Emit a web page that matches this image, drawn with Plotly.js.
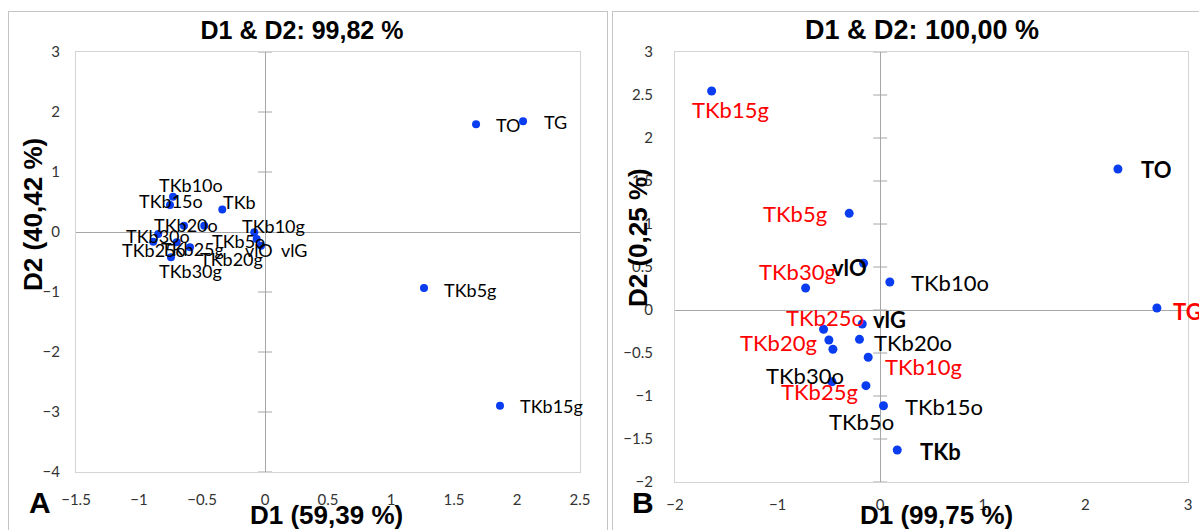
<!DOCTYPE html>
<html>
<head>
<meta charset="utf-8">
<script src="https://cdn.plot.ly/plotly-3.0.1.min.js"></script>
<style>
  html, body { margin: 0; padding: 0; background: #ffffff; width: 1199px; height: 530px; overflow: hidden; }
  #chartA { position: absolute; left: 0; top: 0; width: 610px; height: 530px; }
  #chartB { position: absolute; left: 610px; top: 0; width: 589px; height: 530px; }
  .frame { position: absolute; box-sizing: border-box; border: 1px solid #c4c4c4; pointer-events: none; background: transparent; }
  #frameA { left: 8px; top: 11px; width: 600px; height: 600px; }
  #frameB { left: 612px; top: 11px; width: 700px; height: 600px; }
</style>
</head>
<body>
<div id="chartA"></div>
<div id="chartB"></div>
<div id="frameA" class="frame"></div>
<div id="frameB" class="frame"></div>
<script>
// ---------- Panel A data ----------
const labelsA = ["TO","TG","TKb5g","TKb15g","TKb10o","TKb15o","TKb","TKb20o","TKb5o","TKb30o","TKb25o","TKb25g","TKb20g","TKb30g","TKb10g","vlO","vlG"];
const d1A = [1.675, 2.048, 1.262, 1.865, -0.730, -0.754, -0.339, -0.643, -0.482, -0.847, -0.887, -0.701, -0.595, -0.746, -0.085, -0.066, -0.032];
const d2A = [1.797, 1.847, -0.932, -2.895, 0.587, 0.449, 0.374, 0.105, 0.105, -0.033, -0.161, -0.171, -0.255, -0.421, -0.005, -0.116, -0.228];
const xTicksA = [-1.5, -1, -0.5, 0, 0.5, 1, 1.5, 2, 2.5];
const yTicksA = [-4, -3, -2, -1, 0, 1, 2, 3];
// label offsets (px) for panel A
const offXA = [32, 32, 46, 52, 18, 1, 17, 2, 34, 0, 1, 16, 41, 19, 19, 2, 34];
const offYA = [-1, -1, -2, 0, 12, 4, 8, 1, -15, -2, -8, -7, -12, -14, 6, -11, -4];

// ---------- Panel B data ----------
const labelsB = ["TKb15g","TKb5g","TO","TG","vlO","TKb10o","TKb30g","vlG","TKb25o","TKb20g","TKb20o","TKb10g","TKb30o","TKb25g","TKb5o","TKb15o","TKb"];
const d1B = [-1.643, -0.302, 2.317, 2.697, -0.162, 0.094, -0.727, -0.175, -0.552, -0.500, -0.202, -0.117, -0.461, -0.470, -0.139, 0.032, 0.166];
const d2B = [2.547, 1.124, 1.640, 0.023, 0.543, 0.326, 0.256, -0.163, -0.224, -0.349, -0.341, -0.550, -0.457, -0.834, -0.880, -1.113, -1.628];
const xTicksB = [-2, -1, 0, 1, 2, 3];
const yTicksB = [-2, -1.5, -1, -0.5, 0, 0.5, 1, 1.5, 2, 2.5, 3];
// label styling for panel B
const colorB = ["#ff0000","#ff0000","#000000","#ff0000","#000000","#000000","#ff0000","#000000","#ff0000","#ff0000","#000000","#ff0000","#000000","#ff0000","#000000","#000000","#000000"];
const boldB = [false,false,true,true,true,false,false,true,false,false,false,false,false,false,false,false,true];
const offXB = [19, -54, 38, 31, -14, 60, -8, 27, 1, -50, 54, 55, -28, -12, -4, 61, 43];
const offYB = [-19, 0, -1, -3, -4, -1, 16, 5, 12, -2, -3, -9, -26, -10, -36, -1, -1];

const BLUE = "#0a3cf0";
const ZERO = "#a6a6a6";
const BOX = "#d4d4d4";
const TICKFONT = {family: "Lato, 'Open Sans', sans-serif", size: 15, color: "#333333"};
const TITLEFAMILY = "'Liberation Sans', Arial, sans-serif";

function buildPanel(div, cfg) {
  const pts = {
    type: "scatter", mode: "markers",
    x: cfg.xs, y: cfg.ys,
    marker: {color: BLUE, size: cfg.msize},
    hoverinfo: "skip", showlegend: false
  };
  const ticks = {
    type: "scatter", mode: "markers",
    x: cfg.yTicks.map(() => 0), y: cfg.yTicks,
    marker: {symbol: "line-ew", size: cfg.tickSize, line: {color: ZERO, width: 1}},
    cliponaxis: false, hoverinfo: "skip", showlegend: false
  };
  const anns = cfg.labels.map((t, i) => ({
    x: cfg.xs[i], y: cfg.ys[i], xref: "x", yref: "y",
    text: cfg.bold[i] ? "<b>" + t + "</b>" : t,
    showarrow: false, xanchor: "center", yanchor: "middle",
    xshift: cfg.offX[i], yshift: cfg.offY[i],
    font: {family: "Lato, 'Open Sans', sans-serif", size: cfg.lsize, color: cfg.colors[i]}
  }));
  anns.push({
    xref: "paper", yref: "paper", x: cfg.xtx, y: cfg.xty, showarrow: false,
    xanchor: "center", yanchor: "middle", text: "<b>" + cfg.xTitle + "</b>",
    font: {family: TITLEFAMILY, size: 26, color: "#000"}
  });
  anns.push({
    xref: "paper", yref: "paper", x: cfg.ytx, y: cfg.yty, showarrow: false,
    xanchor: "center", yanchor: "middle", textangle: -90, text: "<b>" + cfg.yTitle + "</b>",
    font: {family: TITLEFAMILY, size: 26, color: "#000"}
  });
  anns.push({
    xref: "paper", yref: "paper", x: cfg.ltx, y: cfg.lty, showarrow: false,
    xanchor: "center", yanchor: "middle", text: "<b>" + cfg.letter + "</b>",
    font: {family: TITLEFAMILY, size: 30, color: "#000"}
  });
  const layout = {
    width: cfg.w, height: 530,
    margin: cfg.margin,
    paper_bgcolor: "rgba(0,0,0,0)", plot_bgcolor: "#ffffff",
    showlegend: false,
    title: {
      text: "<b>" + cfg.title + "</b>", xref: "container", x: cfg.titleX,
      yref: "container", y: 1 - 30 / 530, yanchor: "middle", xanchor: "center",
      font: {family: TITLEFAMILY, size: cfg.titleSize, color: "#000"}
    },
    xaxis: {
      range: cfg.xRange, tickvals: cfg.xTicks, showgrid: false,
      zeroline: true, zerolinecolor: ZERO, zerolinewidth: 1,
      showline: true, mirror: true, linecolor: BOX, linewidth: 1,
      ticks: "", tickfont: TICKFONT, ticklabelstandoff: cfg.xStand, fixedrange: true
    },
    yaxis: {
      range: cfg.yRange, tickvals: cfg.yTicks, showgrid: false,
      zeroline: true, zerolinecolor: ZERO, zerolinewidth: 1,
      showline: true, mirror: true, linecolor: BOX, linewidth: 1,
      ticks: "", tickfont: TICKFONT, ticklabelstandoff: cfg.yStand, fixedrange: true
    },
    annotations: anns
  };
  Plotly.newPlot(div, [ticks, pts], layout, {displayModeBar: false, staticPlot: true});
}

buildPanel("chartA", {
  xs: d1A, ys: d2A, labels: labelsA,
  colors: labelsA.map(() => "#000000"), bold: labelsA.map(() => false),
  offX: offXA, offY: offYA, lsize: 18, msize: 8, tickSize: 10,
  xTicks: xTicksA, yTicks: yTicksA, xRange: [-1.5, 2.5], yRange: [-4, 3],
  w: 610, margin: {l: 76, r: 30, t: 52, b: 58},
  title: "D1 &amp; D2: 99,82 %", titleX: 302 / 610, titleSize: 25,
  xTitle: "D1 (59,39 %)", xtx: 0.498, xty: (472 - 515) / 420,
  yTitle: "D2 (40,42 %)", ytx: (33 - 76) / 504, yty: (472 - 215) / 420,
  letter: "A", ltx: (40 - 76) / 504, lty: (472 - 502) / 420,
  xStand: 14, yStand: 12
});

buildPanel("chartB", {
  xs: d1B, ys: d2B, labels: labelsB,
  colors: colorB, bold: boldB,
  offX: offXB, offY: offYB, lsize: 22, msize: 9, tickSize: 10,
  xTicks: xTicksB, yTicks: yTicksB, xRange: [-2, 3], yRange: [-2, 3],
  w: 589, margin: {l: 65, r: 11, t: 52, b: 48},
  title: "D1 &amp; D2: 100,00 %", titleX: 312 / 589, titleSize: 27,
  xTitle: "D1 (99,75 %)", xtx: 0.509, xty: (482 - 515) / 430,
  yTitle: "D2 (0,25 %)", ytx: (28 - 65) / 513, yty: (482 - 238) / 430,
  letter: "B", ltx: (33 - 65) / 513, lty: (482 - 502) / 430,
  xStand: 9, yStand: 18
});
</script>
</body>
</html>
